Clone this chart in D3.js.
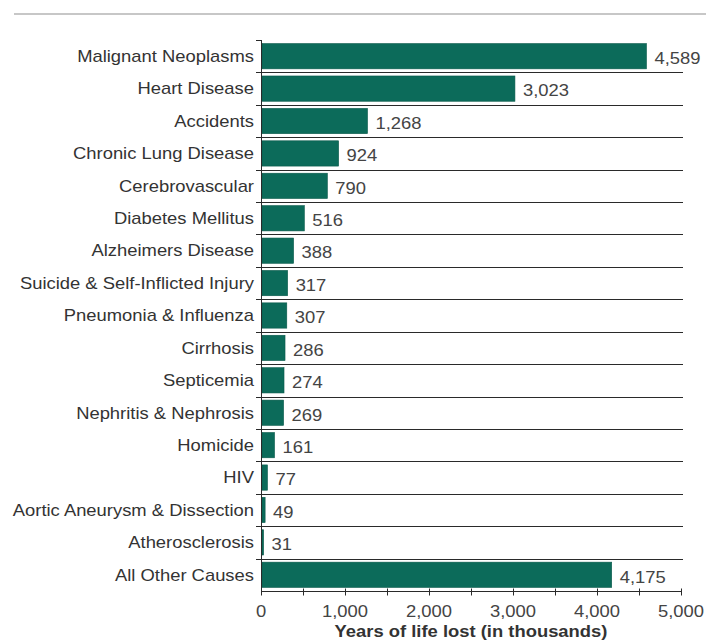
<!DOCTYPE html>
<html>
<head>
<meta charset="utf-8">
<script src="https://cdn.jsdelivr.net/npm/d3@7"></script>
<style>
  body { margin: 0; background: #fff; }
  text { font-family: "Liberation Sans", Arial, sans-serif; }
</style>
</head>
<body>
<div id="chart"></div>
<script>
// causes of death, top to bottom
const causes = [
    "Malignant Neoplasms", "Heart Disease", "Accidents", "Chronic Lung Disease",
    "Cerebrovascular", "Diabetes Mellitus", "Alzheimers Disease",
    "Suicide & Self-Inflicted Injury", "Pneumonia & Influenza", "Cirrhosis",
    "Septicemia", "Nephritis & Nephrosis", "Homicide", "HIV",
    "Aortic Aneurysm & Dissection", "Atherosclerosis", "All Other Causes"
];
// years of life lost, thousands
const yearsLost = [4589, 3023, 1268, 924, 790, 516, 388, 317, 307, 286, 274, 269, 161, 77, 49, 31, 4175];
const xTicks = [0, 1000, 2000, 3000, 4000, 5000];
const xTitle = "Years of life lost (in thousands)";

const rows = causes.map((c, i) => ({ cause: c, value: yearsLost[i] }));

const W = 706, H = 642;
const plotLeft = 261, plotRight = 681, plotTop = 40, plotBottom = 591;
const stretch = 1.15; // text in the picture is a bit wide

const svg = d3.select("#chart").append("svg")
    .attr("width", W)
    .attr("height", H);

// rule under the (cropped) header
svg.append("line")
    .attr("x1", 14).attr("x2", W)
    .attr("y1", 14).attr("y2", 14)
    .attr("stroke", "#b5b5b5")
    .attr("stroke-width", 1.5);

const x = d3.scaleLinear().domain([0, 5000]).range([plotLeft, plotRight]);
const y = d3.scaleBand().domain(causes).range([plotTop, plotBottom]).paddingInner(0.22).paddingOuter(0.11);

const step = y.step();
const bounds = d3.range(causes.length + 1).map(i => plotTop + i * step);

// separators between rows
svg.append("g")
    .selectAll("line")
    .data(bounds.slice(1, -1))
    .enter().append("line")
    .attr("x1", plotLeft - 5).attr("x2", plotRight + 2)
    .attr("y1", d => Math.round(d) + 0.5).attr("y2", d => Math.round(d) + 0.5)
    .attr("stroke", "#2a2a2a")
    .attr("stroke-width", 1);

// top tick
svg.append("line")
    .attr("x1", plotLeft - 5).attr("x2", plotLeft)
    .attr("y1", plotTop + 0.5).attr("y2", plotTop + 0.5)
    .attr("stroke", "#2a2a2a");

// bars
svg.append("g")
    .selectAll("rect")
    .data(rows)
    .enter().append("rect")
    .attr("x", x(0) + 1)
    .attr("y", d => y(d.cause))
    .attr("width", d => Math.max(1.5, x(d.value) - x(0) - 1))
    .attr("height", y.bandwidth())
    .attr("fill", "#0c6b5a")
    .attr("stroke", "#0a5a4b")
    .attr("stroke-width", 0.6);

// y axis line
svg.append("line")
    .attr("x1", plotLeft + 0.5).attr("x2", plotLeft + 0.5)
    .attr("y1", plotTop).attr("y2", plotBottom)
    .attr("stroke", "#2a2a2a");

// category labels
svg.append("g")
    .selectAll("text")
    .data(rows)
    .enter().append("text")
    .attr("transform", d => `translate(${plotLeft - 7},${y(d.cause) + y.bandwidth() / 2}) scale(${stretch},1)`)
    .attr("dy", "0.36em")
    .attr("text-anchor", "end")
    .attr("font-size", 16)
    .attr("fill", "#333")
    .text(d => d.cause);

// value labels
svg.append("g")
    .selectAll("text")
    .data(rows)
    .enter().append("text")
    .attr("transform", d => `translate(${x(d.value) + 8},${y(d.cause) + y.bandwidth() / 2 + 2}) scale(${stretch},1)`)
    .attr("dy", "0.36em")
    .attr("font-size", 16)
    .attr("fill", "#444")
    .text(d => d3.format(",")(d.value));

// x axis
const xAxis = svg.append("g")
    .attr("transform", `translate(0,${plotBottom + 0.5})`);

xAxis.append("line")
    .attr("x1", plotLeft).attr("x2", plotRight)
    .attr("stroke", "#2a2a2a");

xAxis.selectAll(".tick")
    .data(d3.range(0, 5001, 500))
    .enter().append("line")
    .attr("x1", d => x(d) + 0.5).attr("x2", d => x(d) + 0.5)
    .attr("y1", -3).attr("y2", 4)
    .attr("stroke", "#2a2a2a");

xAxis.selectAll(".tick-label")
    .data(xTicks)
    .enter().append("text")
    .attr("transform", d => `translate(${x(d)},${25}) scale(${stretch},1)`)
    .attr("text-anchor", "middle")
    .attr("font-size", 16)
    .attr("fill", "#444")
    .text(d => d3.format(",")(d));

svg.append("text")
    .attr("transform", `translate(${(plotLeft + plotRight) / 2},${H - 5}) scale(${stretch},1)`)
    .attr("text-anchor", "middle")
    .attr("font-size", 16)
    .attr("font-weight", "bold")
    .attr("fill", "#333")
    .text(xTitle);
</script>
</body>
</html>
